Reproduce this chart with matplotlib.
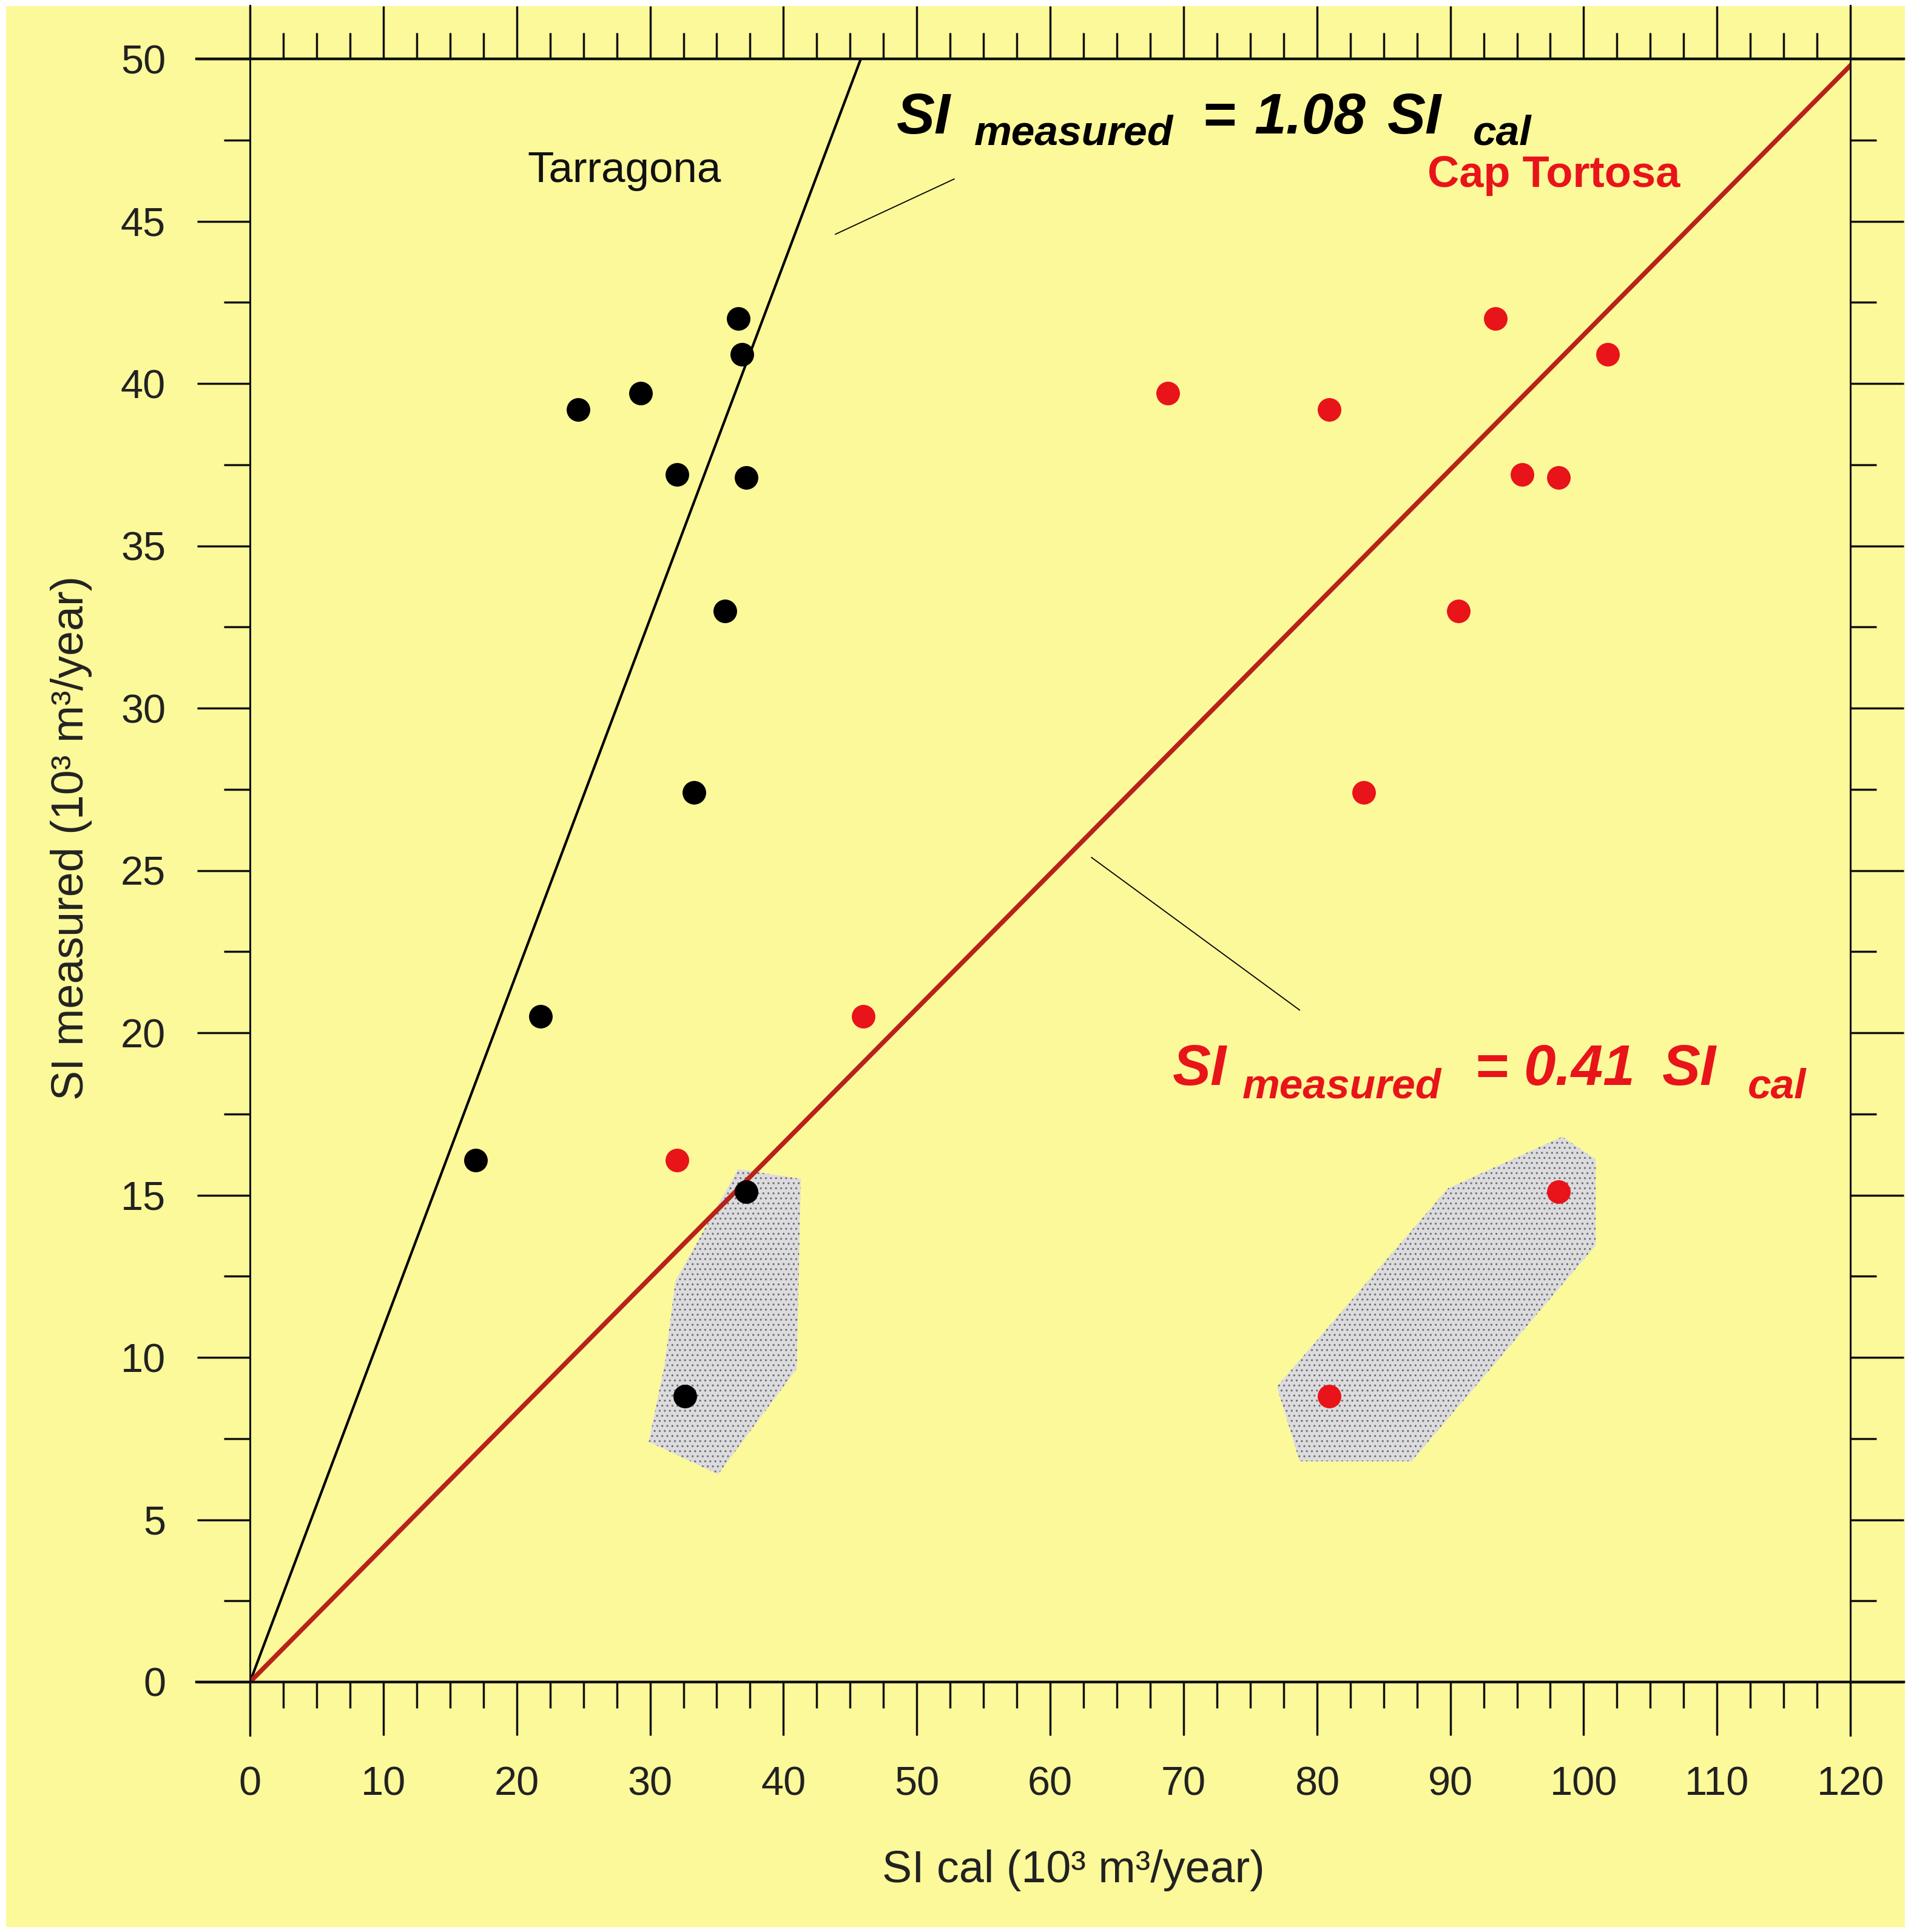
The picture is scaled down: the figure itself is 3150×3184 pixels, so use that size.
import matplotlib
matplotlib.use("Agg")
import matplotlib.pyplot as plt
from matplotlib.patches import Polygon, Rectangle
from matplotlib.ticker import MultipleLocator

plt.rcParams['font.family'] = ['Liberation Sans', 'DejaVu Sans']
plt.rcParams['hatch.linewidth'] = 1.2

# Tarragona (black) points
tarr_x = [16.9, 21.8, 24.6, 29.3, 32.0, 36.6, 36.9, 37.2, 35.6, 33.3, 37.2, 32.6]
tarr_y = [16.07, 20.5, 39.2, 39.7, 37.2, 42.0, 40.9, 37.1, 33.0, 27.4, 15.1, 8.8]

# Cap Tortosa (red) points
cap_x = [32.0, 46.0, 68.8, 80.9, 93.4, 101.8, 95.4, 98.1, 90.6, 83.5, 98.1, 80.9]
cap_y = [16.07, 20.5, 39.7, 39.2, 42.0, 40.9, 37.2, 37.1, 33.0, 27.4, 15.1, 8.8]

# fit lines
tarr_fit_x = [0, 45.8]
tarr_fit_y = [0, 50.0]
cap_fit_x = [0, 120.0]
cap_fit_y = [0, 49.8]

# shaded outlier areas
poly_left = [(36.6, 15.8), (41.3, 15.5), (41.0, 9.65), (35.1, 6.4),
             (29.9, 7.4), (31.1, 9.8), (31.9, 12.35)]
poly_right = [(98.4, 16.8), (100.9, 16.1), (100.9, 13.45), (87.1, 6.8),
              (78.7, 6.8), (77.0, 9.1), (89.8, 15.2)]

# leader lines
lead1_x = [43.9, 52.8]
lead1_y = [44.6, 46.3]
lead2_x = [63.1, 78.7]
lead2_y = [25.4, 20.7]

# equation pieces: (text, x, y, size)
eq_black = [('SI', 48.5, 47.7, 68), ('measured', 54.3, 47.35, 50),
            ('=', 71.4, 47.7, 68), ('1.08', 75.3, 47.7, 68),
            ('SI', 85.3, 47.7, 68), ('cal', 91.7, 47.35, 50)]
eq_red = [('SI', 69.2, 18.39, 68), ('measured', 74.4, 18.0, 50),
          ('=', 91.8, 18.39, 68), ('0.41', 95.5, 18.39, 68),
          ('SI', 105.9, 18.39, 68), ('cal', 112.3, 18.0, 50)]

BG = '#fcf99a'
RED = '#e8141a'
DARKRED = '#b8221a'

fig = plt.figure(figsize=(31.5, 31.84), dpi=100, facecolor='white')
fig.patches.append(Rectangle((10 / 3150, 8 / 3184), 3130 / 3150, 3166 / 3184,
                             transform=fig.transFigure, facecolor=BG,
                             edgecolor='none', zorder=-10))
ax = fig.add_axes([0.1308, 0.1294, 0.8375, 0.8401])
ax.set_facecolor(BG)

for pts in (poly_left, poly_right):
    ax.add_patch(Polygon(pts, closed=True, facecolor='#dcdcdf',
                         edgecolor='#707076', hatch='..', linewidth=0, zorder=1))

ax.plot(tarr_fit_x, tarr_fit_y, color='black', lw=3, zorder=2)
ax.plot(cap_fit_x, cap_fit_y, color=DARKRED, lw=5.5, zorder=2)
ax.plot(lead1_x, lead1_y, color='black', lw=1.3, zorder=2)
ax.plot(lead2_x, lead2_y, color='black', lw=1.3, zorder=2)

ax.plot(tarr_x, tarr_y, 'o', color='black', ms=27, zorder=3)
ax.plot(cap_x, cap_y, 'o', color=RED, ms=27, zorder=3)

ax.set_xlim(0, 120)
ax.set_ylim(0, 50)
ax.xaxis.set_major_locator(MultipleLocator(10))
ax.xaxis.set_minor_locator(MultipleLocator(2.5))
ax.yaxis.set_major_locator(MultipleLocator(5))
ax.yaxis.set_minor_locator(MultipleLocator(2.5))
ax.tick_params(which='both', direction='out', top=True, right=True,
               labeltop=False, labelright=False, width=2.5, color='#111111')
ax.tick_params(which='major', length=63, pad=37, labelsize=48, labelcolor='#222222')
ax.tick_params(which='minor', length=31)

for side in ax.spines:
    ax.spines[side].set_visible(False)
ex = 88 / 2638
ey = 88 / 2675
kw = dict(transform=ax.transAxes, clip_on=False, color='#111111', zorder=4)
ax.plot([-ex, 1 + ex], [0, 0], lw=3.2, **kw)
ax.plot([-ex, 1 + ex], [1, 1], lw=3.2, **kw)
ax.plot([0, 0], [-ey, 1 + ey], lw=2.2, **kw)
ax.plot([1, 1], [-ey, 1 + ey], lw=2.2, **kw)

ax.set_xlabel('SI cal (10³ m³/year)', fontsize=53, color='#222222', va='center')
ax.xaxis.set_label_coords(0.5146, -0.116)
ax.set_ylabel('SI measured (10³ m³/year)', fontsize=53, color='#222222', va='center')
ax.yaxis.set_label_coords(-0.1117, 0.52)

ax.text(20.8, 46.2, 'Tarragona', fontsize=51, color='#111111')
ax.text(88.3, 46.05, 'Cap Tortosa', fontsize=52, color=RED, fontweight='bold')

for pieces, col in ((eq_black, 'black'), (eq_red, RED)):
    for txt, x, y, size in pieces:
        ax.text(x, y, txt, fontsize=size, color=col, fontweight='bold',
                fontstyle='italic', va='baseline')

fig.savefig('out.png', dpi=100, facecolor=fig.get_facecolor())
